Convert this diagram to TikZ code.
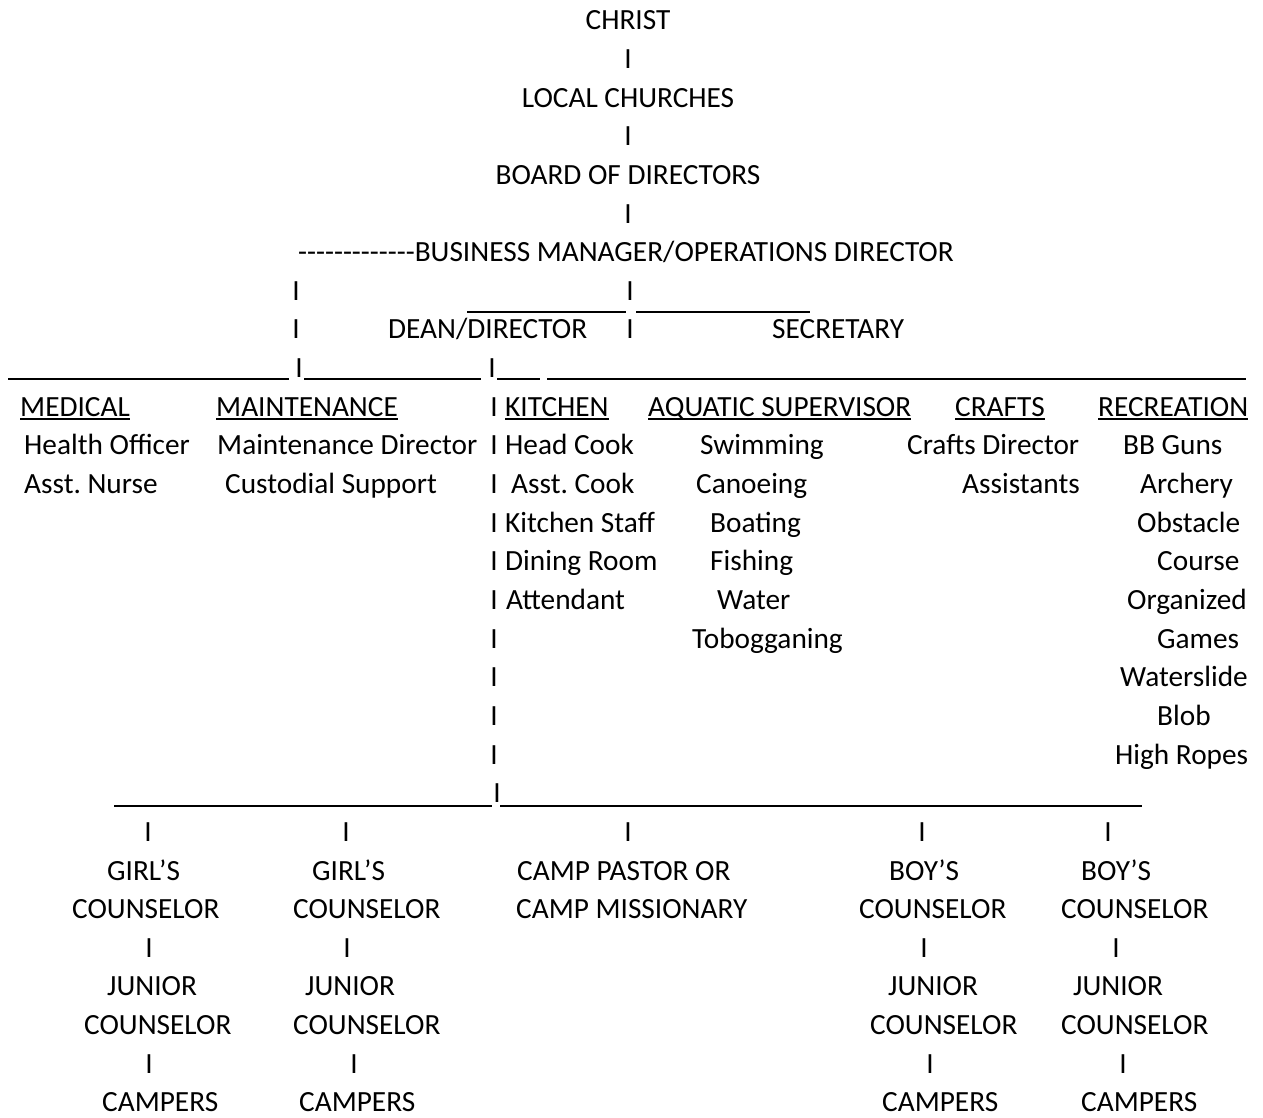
\documentclass[tikz,border=0pt]{standalone}
\usepackage{fontspec}
\setmainfont{Carlito}
\usepackage{tikz}
\frenchspacing
\tikzset{chart/.style={x=1pt,y=-1pt,every node/.style={inner sep=0pt,font=\fontsize{29.3}{35}\selectfont}},
  txt/.style={anchor=base west},bar/.style={anchor=base},rule/.style={line width=1.4pt},
  head/.style={anchor=base west}}

\begin{document}
\begin{tikzpicture}[chart]
			\useasboundingbox[fill=white] (0,0) rectangle (1263,1117);
			\node[bar] (christ) at (628,29.5) {CHRIST};
			\node[bar] (i1) at (628,68) {I};
			\node[bar] (local) at (628,107) {LOCAL CHURCHES};
			\node[bar] (i2) at (628,145.5) {I};
			\node[bar] (board) at (628,184) {BOARD OF DIRECTORS};
			\node[bar] (i3) at (628,223) {I};
			\node[txt] (bm) at (298,261.5) {-{}-{}-{}-{}-{}-{}-{}-{}-{}-{}-{}-{}-BUSINESS MANAGER/OPERATIONS DIRECTOR};
			\node[bar] (iL1) at (296,300) {I};
			\node[bar] (iR1) at (630,300) {I};
			\coordinate (sa) at (467,312);
			\coordinate (sb) at (626,312);
			\coordinate (sc) at (636,312);
			\coordinate (sd) at (810,312);
			\draw[rule] (sa) -- (sb) (sc) -- (sd);
			\node[bar] (iL2) at (296,338.5) {I};
			\node[txt] (dean) at (388,338.5) {DEAN/DIRECTOR};
			\node[bar] (iR2) at (630,338.5) {I};
			\node[txt] (sec) at (772,338.5) {SECRETARY};
			\node[bar] (iL3) at (299,377) {I};
			\node[bar] (iD1) at (492,377) {I};
			\coordinate (la) at (8,379);
			\coordinate (lb) at (289,379);
			\coordinate (lc) at (304,379);
			\coordinate (ld) at (481,379);
			\coordinate (le) at (497,379);
			\coordinate (lf) at (540,379);
			\coordinate (lg) at (547,379);
			\coordinate (lh) at (1246,379);
			\draw[rule] (la) -- (lb) (lc) -- (ld) (le) -- (lf) (lg) -- (lh);
			\draw[line width=2.2pt] (378,379) -- (422,379);
			\node[head] (med) at (20,416) {MEDICAL};
			\node[head] (mnt) at (216,416) {MAINTENANCE};
			\node[bar] (iK1) at (494,416) {I};
			\node[head] (kit) at (505,416) {KITCHEN};
			\node[head] (aqu) at (648,416) {AQUATIC SUPERVISOR};
			\node[head] (cra) at (955,416) {CRAFTS};
			\node[head] (rec) at (1098,416) {RECREATION};
			\foreach \h in {med,mnt,kit,aqu,cra,rec}
				\draw[rule] ([yshift=-3pt]\h.base west) -- ([yshift=-3pt]\h.base east);
			\node[txt] (health) at (24,454.5) {Health Officer};
			\node[txt] (mdir) at (217,454.5) {Maintenance Director};
			\node[bar] (iK2) at (494,454.5) {I};
			\node[txt] (head) at (505,454.5) {Head Cook};
			\node[txt] (swim) at (700,454.5) {Swimming};
			\node[txt] (cdir) at (907,454.5) {Crafts Director};
			\node[txt] (bb) at (1123,454.5) {BB Guns};
			\node[txt] (nurse) at (24,493) {Asst. Nurse};
			\node[txt] (cust) at (225,493) {Custodial Support};
			\node[bar] (iK3) at (494,493) {I};
			\node[txt] (acook) at (511,493) {Asst. Cook};
			\node[txt] (canoe) at (696,493) {Canoeing};
			\node[txt] (asst) at (962,493) {Assistants};
			\node[txt] (arch) at (1140,493) {Archery};
			\node[bar] (iK4) at (494,532) {I};
			\node[txt] (staff) at (505,532) {Kitchen Staff};
			\node[txt] (boat) at (710,532) {Boating};
			\node[txt] (obst) at (1137,532) {Obstacle};
			\node[bar] (iK5) at (494,570.5) {I};
			\node[txt] (dining) at (505,570.5) {Dining Room};
			\node[txt] (fish) at (710,570.5) {Fishing};
			\node[txt] (course) at (1157,570.5) {Course};
			\node[bar] (iK6) at (494,609) {I};
			\node[txt] (att) at (506,609) {Attendant};
			\node[txt] (water) at (717,609) {Water};
			\node[txt] (org) at (1127,609) {Organized};
			\node[txt] (tob) at (692,648) {Tobogganing};
			\node[txt] (games) at (1157,648) {Games};
			\node[txt] (slide) at (1120,686.5) {Waterslide};
			\node[txt] (blob) at (1157,725) {Blob};
			\node[txt] (ropes) at (1115,764) {High Ropes};
			\foreach \k/\y in {7/648,8/686.5,9/725,10/764}
				\node[bar] (iK\k) at (494,\y) {I};
			\node[bar] (iM) at (497,802.5) {I};
			\coordinate (ba) at (114,806);
			\coordinate (bb) at (492,806);
			\coordinate (bc) at (500,806);
			\coordinate (bd) at (1142,806);
			\draw[rule] (ba) -- (bb) (bc) -- (bd);
			\foreach \n/\x in {g1/148,g2/346,p/628,b1/922,b2/1108}
				\node[bar] (i\n) at (\x,841) {I};
			\node[txt] (girl1) at (107,880) {GIRL’S};
			\node[txt] (girl2) at (312,880) {GIRL’S};
			\node[txt] (pastor) at (517,880) {CAMP PASTOR OR};
			\node[txt] (boy1) at (889,880) {BOY’S};
			\node[txt] (boy2) at (1081,880) {BOY’S};
			\node[txt] (gc1) at (72,918.5) {COUNSELOR};
			\node[txt] (gc2) at (293,918.5) {COUNSELOR};
			\node[txt] (miss) at (516,918.5) {CAMP MISSIONARY};
			\node[txt] (bc1) at (859,918.5) {COUNSELOR};
			\node[txt] (bc2) at (1061,918.5) {COUNSELOR};
			\foreach \n/\x in {g1/149,g2/347,b1/924,b2/1116}
				\node[bar] (j\n) at (\x,957) {I};
			\node[txt] (jr1) at (107,995.5) {JUNIOR};
			\node[txt] (jr2) at (305,995.5) {JUNIOR};
			\node[txt] (jr3) at (888,995.5) {JUNIOR};
			\node[txt] (jr4) at (1073,995.5) {JUNIOR};
			\node[txt] (jc1) at (84,1034.5) {COUNSELOR};
			\node[txt] (jc2) at (293,1034.5) {COUNSELOR};
			\node[txt] (jc3) at (870,1034.5) {COUNSELOR};
			\node[txt] (jc4) at (1061,1034.5) {COUNSELOR};
			\foreach \n/\x in {g1/149,g2/354,b1/930,b2/1123}
				\node[bar] (k\n) at (\x,1073) {I};
			\node[txt] (camp1) at (102,1111.5) {CAMPERS};
			\node[txt] (camp2) at (299,1111.5) {CAMPERS};
			\node[txt] (camp3) at (882,1111.5) {CAMPERS};
			\node[txt] (camp4) at (1081,1111.5) {CAMPERS};
		\end{tikzpicture}
\end{document}
